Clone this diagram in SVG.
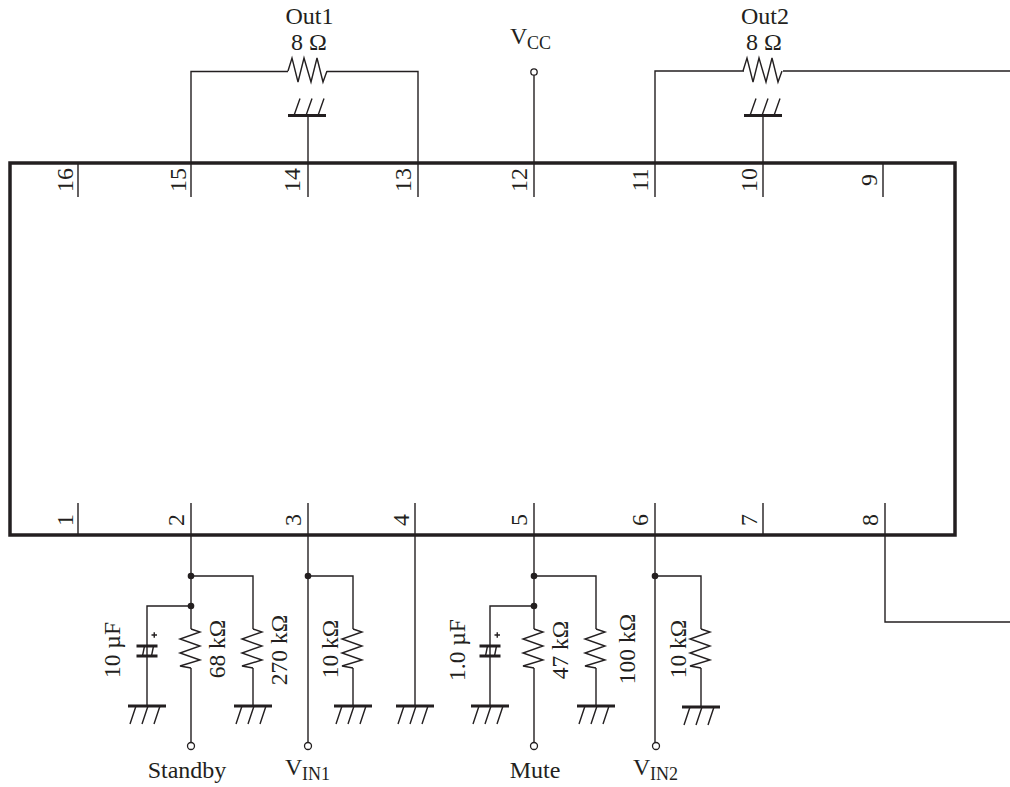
<svg xmlns="http://www.w3.org/2000/svg" width="1010" height="787" viewBox="0 0 1010 787">
<style>
text{font-family:"Liberation Serif","Times New Roman",serif;font-size:24px;fill:#231f20}
.v{font-size:23.500px}
.sub{font-size:18px}
.w{fill:none;stroke:#231f20;stroke-width:1.4}
.t{fill:none;stroke:#231f20;stroke-width:2.8}
.b{fill:#231f20}
.o{fill:#fff;stroke:#231f20;stroke-width:1.3}
.m{text-anchor:middle}
</style>
<defs>
<g id="res-v"><path class="w" d="M0,-19L9,-16L-11,-9L9,-2L-11,5L9,12L-11,18L0,20"/></g>
<g id="res-h"><path class="w" d="M-20,0L-16,-13L-10,11L-4,-13L3,11L9,-13L15,11L19,0"/></g>
<g id="gnd-d"><path class="t" d="M-19,0H19"/><path class="w" d="M-11,0L-17,18M1,0L-5,18M13,0L7,18"/></g>
<g id="gnd-u"><path class="t" d="M-19,0H19"/><path class="w" d="M-13,0L-7,-17M-1,0L5,-17M11,0L17,-17"/></g>
<g id="cap"><path class="t" d="M-11,-5H10M-11,5H10"/><path class="w" d="M-5,5L-3,-5M4,5L6,-5M-.5,-5V5"/><path class="w" d="M4,-16h5.500M6.750,-18.750v5.500"/></g>
</defs>
<g id="connectors">
<path class="w" d="M191,163V71.500H288M327,71.500H418V163"/>
<path class="w" d="M308,115V197"/>
<path class="w" d="M191,163V197M418,163V197"/>
<path class="w" d="M534,75V197"/>
<path class="w" d="M655,197V71H744M783,71H1010"/>
<path class="w" d="M763,115V197"/>
<path class="w" d="M78,163V197M883,163V197"/>
<path class="w" d="M78,503V535M763,503V535"/>
<path class="w" d="M191,503V629M191,668V742"/>
<path class="w" d="M191,576H253V629M253,668V706"/>
<path class="w" d="M191,606H147V646M147,656V706"/>
<path class="w" d="M308,503V742"/>
<path class="w" d="M308,576H353V629M353,668V706"/>
<path class="w" d="M415,503V706"/>
<path class="w" d="M534,503V629M534,668V742"/>
<path class="w" d="M534,576H596V629M596,668V706"/>
<path class="w" d="M534,606H490V646M490,656V706"/>
<path class="w" d="M655,503V742"/>
<path class="w" d="M655,576H701V629M701,668V707"/>
<path class="w" d="M885,503V622H1010"/>
</g>
<g id="ic"><rect x="10" y="163" width="945" height="372" fill="none" stroke="#231f20" stroke-width="3.500"/></g>
<g id="pins-top">
<text transform="translate(73,180) rotate(-90)" class="m">16</text>
<text transform="translate(186,180) rotate(-90)" class="m">15</text>
<text transform="translate(300,180) rotate(-90)" class="m">14</text>
<text transform="translate(411,180) rotate(-90)" class="m">13</text>
<text transform="translate(527,180) rotate(-90)" class="m">12</text>
<text transform="translate(648,180) rotate(-90)" class="m">11</text>
<text transform="translate(757,180) rotate(-90)" class="m">10</text>
<text transform="translate(877,180) rotate(-90)" class="m">9</text>
</g>
<g id="pins-bottom">
<text transform="translate(73,520) rotate(-90)" class="m">1</text>
<text transform="translate(184,520) rotate(-90)" class="m">2</text>
<text transform="translate(301,520) rotate(-90)" class="m">3</text>
<text transform="translate(409,520) rotate(-90)" class="m">4</text>
<text transform="translate(527,520) rotate(-90)" class="m">5</text>
<text transform="translate(648,520) rotate(-90)" class="m">6</text>
<text transform="translate(757,520) rotate(-90)" class="m">7</text>
<text transform="translate(878,520) rotate(-90)" class="m">8</text>
</g>
<g id="out1"><use href="#res-h" x="308" y="71"/><text x="309.500" y="24" class="m">Out1</text><text x="309" y="50" class="m">8 Ω</text></g>
<g id="gnd14"><use href="#gnd-u" x="307" y="115.500"/></g>
<g id="vcc"><circle class="o" cx="534" cy="72" r="3.200"/><text x="510" y="44">V</text><text x="527" y="49" class="sub">CC</text></g>
<g id="out2"><use href="#res-h" x="763" y="71"/><text x="765" y="24" class="m">Out2</text><text x="764" y="50" class="m">8 Ω</text></g>
<g id="gnd10"><use href="#gnd-u" x="763" y="115.500"/></g>
<g id="standby-net">
<circle class="b" cx="191" cy="576" r="3.300"/><circle class="b" cx="191" cy="606" r="3.300"/>
<use href="#cap" x="147.500" y="651"/><use href="#gnd-d" x="147" y="706"/>
<text transform="translate(120,650) rotate(-90)" class="m v">10 µF</text>
<use href="#res-v" x="191" y="648"/><text transform="translate(225,649) rotate(-90)" class="m v">68 kΩ</text>
<use href="#res-v" x="253" y="648"/><use href="#gnd-d" x="253" y="706"/><text transform="translate(287,650) rotate(-90)" class="m v">270 kΩ</text>
<circle class="o" cx="191" cy="746" r="3.500"/><text x="187" y="778" class="m">Standby</text>
</g>
<g id="vin1-net">
<circle class="b" cx="308" cy="576" r="3.300"/>
<use href="#res-v" x="353" y="648"/><use href="#gnd-d" x="353" y="706"/><text transform="translate(338,649) rotate(-90)" class="m v">10 kΩ</text>
<circle class="o" cx="308" cy="746" r="3.500"/><text x="285" y="775">V</text><text x="302" y="780" class="sub">IN1</text>
</g>
<g id="gnd4"><use href="#gnd-d" x="415" y="706"/></g>
<g id="mute-net">
<circle class="b" cx="534" cy="576" r="3.300"/><circle class="b" cx="534" cy="606" r="3.300"/>
<use href="#cap" x="490.500" y="651"/><use href="#gnd-d" x="490" y="706"/>
<text transform="translate(465,650) rotate(-90)" class="m v">1.0 µF</text>
<use href="#res-v" x="534" y="648"/><text transform="translate(568,650) rotate(-90)" class="m v">47 kΩ</text>
<use href="#res-v" x="596" y="648"/><use href="#gnd-d" x="596" y="706"/><text transform="translate(635,649) rotate(-90)" class="m v">100 kΩ</text>
<circle class="o" cx="534" cy="746" r="3.500"/><text x="535" y="778" class="m">Mute</text>
</g>
<g id="vin2-net">
<circle class="b" cx="655" cy="576" r="3.300"/>
<use href="#res-v" x="701" y="648"/><use href="#gnd-d" x="701" y="707"/><text transform="translate(686,649) rotate(-90)" class="m v">10 kΩ</text>
<circle class="o" cx="656" cy="746" r="3.500"/><text x="633" y="775">V</text><text x="650" y="780" class="sub">IN2</text>
</g>
</svg>
